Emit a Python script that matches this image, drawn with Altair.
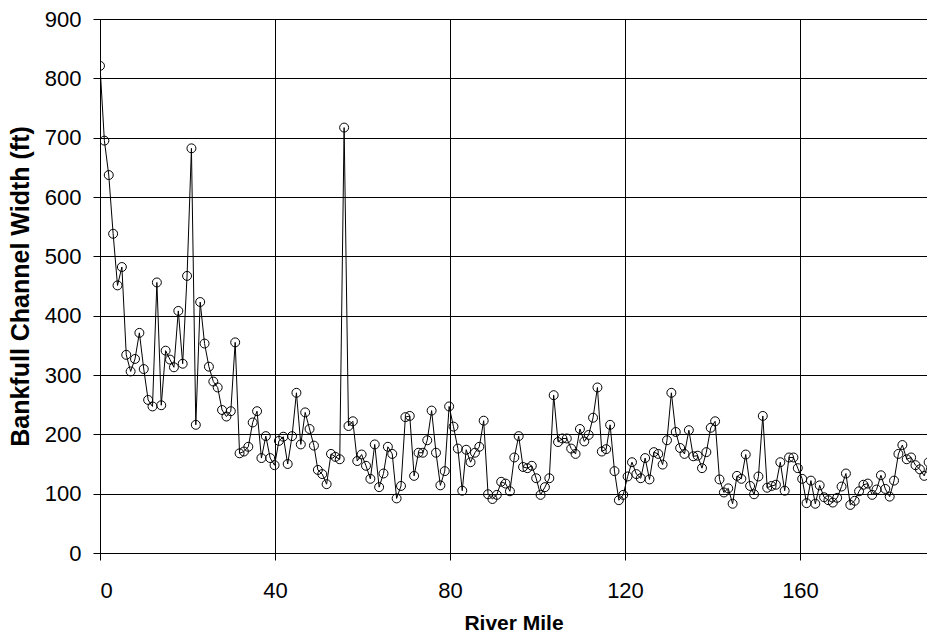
import altair as alt
import pandas as pd

# River mile of each survey point
river_mile = [
    0, 1, 2, 3, 4, 5, 6, 7, 8, 9, 10, 11, 12, 13, 14, 15, 16,
    16.9, 17.9, 18.9, 19.9, 20.9, 21.9, 22.9, 23.9, 24.9, 25.9, 26.9, 27.9, 28.9, 29.9,
    30.9, 31.9, 32.9, 33.9, 34.9, 35.9, 36.9, 37.9, 38.9, 39.9, 40.9, 41.9, 42.9, 43.9,
    44.9, 45.9, 46.9, 47.9, 48.9,
    49.8, 50.8, 51.8, 52.8, 53.8, 54.8, 55.8, 56.8, 57.8, 58.8, 59.8, 60.8, 61.8, 62.8,
    63.8, 64.8, 65.8, 66.8, 67.8, 68.8, 69.8, 70.8, 71.8, 72.8, 73.8, 74.8, 75.8, 76.8,
    77.8, 78.8, 79.8, 80.8, 81.8, 82.8,
    83.7, 84.7, 85.7, 86.7, 87.7, 88.7, 89.7, 90.7, 91.7, 92.7, 93.7, 94.7, 95.7, 96.7,
    97.7, 98.7, 99.7, 100.7, 101.7, 102.7, 103.7, 104.7, 105.7, 106.7, 107.7, 108.7,
    109.7, 110.7, 111.7, 112.7, 113.7, 114.7, 115.7,
    116.6, 117.6, 118.6, 119.6, 120.6, 121.6, 122.6, 123.6, 124.6, 125.6, 126.6, 127.6,
    128.6, 129.6, 130.6, 131.6, 132.6, 133.6, 134.6, 135.6, 136.6, 137.6, 138.6, 139.6,
    140.6, 141.6, 142.6, 143.6, 144.6, 145.6, 146.6, 147.6, 148.6,
    149.5, 150.5, 151.5, 152.5, 153.5, 154.5, 155.5, 156.5, 157.5, 158.5, 159.5, 160.5,
    161.5, 162.5, 163.5, 164.5, 165.5, 166.5, 167.5, 168.5, 169.5, 170.5, 171.5, 172.5,
    173.5, 174.5, 175.5, 176.5, 177.5, 178.5, 179.5, 180.5, 181.5, 182.5,
    183.4, 184.4, 185.4, 186.4, 187.4, 188.4, 189.4, 190.4,
]

# Bankfull channel width (ft) at each point
width_ft = [
    821, 695, 637, 538, 451, 482, 334, 306, 327, 371, 310, 258, 247, 456, 249, 341, 326,
    313, 408, 319, 467, 682, 216, 423, 353, 314, 289, 279, 241, 230, 239,
    355, 168, 171, 179, 220, 239, 160, 197, 160, 148, 189, 196, 150, 197,
    270, 183, 237, 209, 181,
    140, 133, 116, 167, 162, 158, 717, 214, 222, 155, 166, 147, 125, 183,
    111, 134, 179, 167, 92, 113, 229, 231, 130, 169, 169, 190, 240, 169,
    114, 138, 247, 213, 176, 105,
    174, 153, 169, 179, 223, 99, 91, 98, 120, 117, 104, 161, 197, 145,
    143, 147, 126, 98, 111, 126, 266, 187, 193, 193, 176, 167,
    209, 188, 199, 228, 279, 171, 175,
    216, 138, 89, 98, 129, 153, 133, 126, 160, 124, 170, 167,
    149, 190, 270, 204, 177, 167, 207, 163, 164, 143, 170, 211,
    222, 124, 102, 109, 83, 130, 125, 166, 113,
    99, 129, 231, 110, 113, 115, 153, 105, 161, 161, 143, 125,
    84, 122, 83, 114, 94, 89, 85, 93, 112, 134, 81, 88,
    104, 115, 117, 98, 107, 131, 108, 95, 122, 167,
    182, 158, 161, 148, 141, 130, 153, 185,
]

x_ticks = [0, 40, 80, 120, 160]
y_ticks = [0, 100, 200, 300, 400, 500, 600, 700, 800, 900]

df = pd.DataFrame({"mile": river_mile, "width": width_ft})

FONT = "Liberation Sans"

x_enc = alt.X(
    "mile:Q",
    scale=alt.Scale(domain=[0, 189.03], nice=False, zero=False),
    axis=alt.Axis(values=x_ticks, title="River Mile", labelPadding=20,
                  titlePadding=11, titleFontSize=21),
)
y_enc = alt.Y(
    "width:Q",
    scale=alt.Scale(domain=[0, 900], nice=False),
    axis=alt.Axis(values=y_ticks, title="Bankfull Channel Width (ft)", labelPadding=12,
                  titlePadding=11, titleFontSize=25),
)

base = alt.Chart(df).encode(x=x_enc, y=y_enc, order="mile:Q")
line = base.mark_line(color="black", strokeWidth=1, clip=True)
pts = base.mark_point(shape="circle", filled=False, color="black", size=80,
                      strokeWidth=1, opacity=1, clip=True)

chart = (
    (line + pts)
    .properties(
        width=827,
        height=534,
        padding={"left": 100, "top": 19, "right": 0, "bottom": 85},
        autosize=alt.AutoSizeParams(type="none"),
        background="white",
    )
    .configure_view(stroke=None)
    .configure_axis(
        labelFont=FONT,
        labelFontSize=22,
        labelColor="black",
        titleFont=FONT,
        titleFontWeight="bold",
        titleColor="black",
        domainColor="black",
        domainWidth=1,
        tickColor="black",
        tickSize=7,
        tickWidth=1,
        gridColor="black",
        gridOpacity=1,
        gridWidth=1,
    )
)

chart.save("out.html", embed_options={"renderer": "svg", "actions": False})
